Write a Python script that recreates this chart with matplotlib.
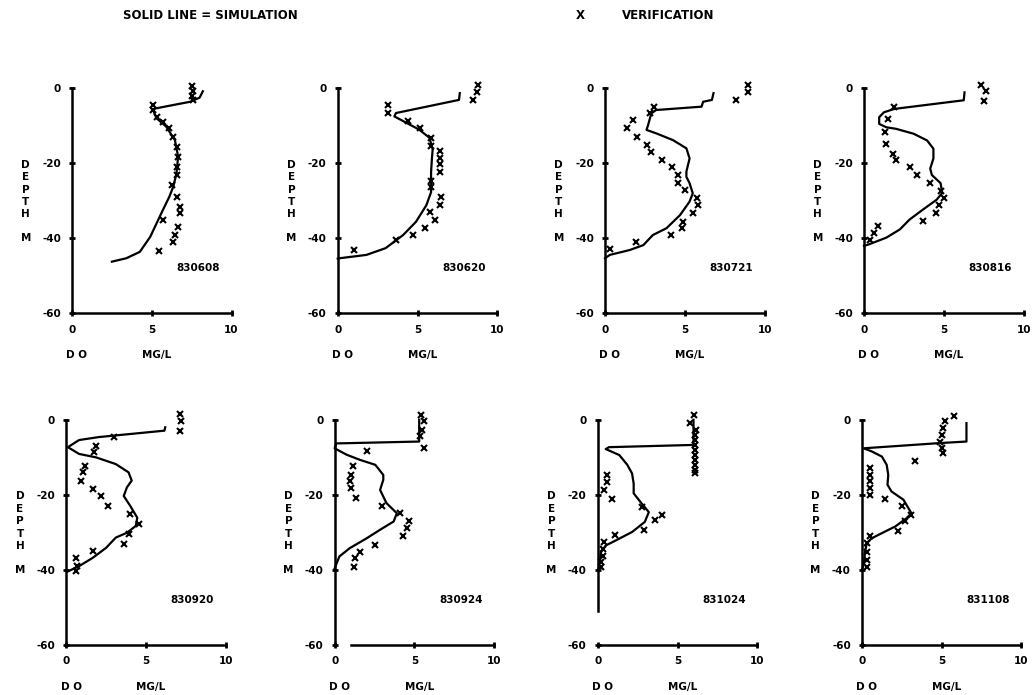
import matplotlib.pyplot as plt
from matplotlib.transforms import blended_transform_factory

plt.rcParams["font.family"] = "DejaVu Sans"
plt.rcParams["font.weight"] = "heavy"

# survey dates (YYMMDD)
dates = ["830608", "830620", "830721", "830816",
         "830920", "830924", "831024", "831108"]

# simulated D.O. profiles: (mg/L, depth m)
sim_do = [
    [8.2, 8.0, 7.4, 5.2, 5.1, 5.3, 5.9, 6.45, 6.65, 6.55, 6.35, 6.1, 5.7, 5.3, 4.9, 4.25, 3.4, 2.5],
    [7.65, 7.6, 3.65, 3.55, 4.3, 5.1, 5.75, 5.95, 5.9, 5.85, 5.85, 5.55, 4.9, 4.1, 3.0, 1.8, 0.1, 0.0],
    [6.8, 6.7, 6.15, 6.05, 3.2, 2.9, 2.7, 2.6, 3.2, 4.25, 5.1, 5.3, 5.1, 5.1, 5.3, 5.5, 5.3, 4.7,
     3.85, 3.0, 2.4, 1.55, 0.3, 0.0],
    [6.3, 6.25, 1.9, 1.25, 0.95, 0.95, 1.4, 2.0, 3.1, 3.95, 4.35, 4.35, 4.15, 4.25, 4.8, 4.9, 4.55,
     3.7, 2.85, 2.25, 1.4, 0.3, 0.0],
    [6.2, 6.15, 2.05, 0.8, 0.1, 0.8, 1.85, 3.1, 3.9, 4.1, 3.8, 3.6, 4.0, 4.45, 4.35, 3.8, 3.1, 2.5,
     1.65, 0.8, 0.1],
    [5.3, 5.3, 0.1, 0.0, 0.75, 1.6, 2.55, 3.05, 3.05, 2.85, 3.25, 3.9, 3.7, 2.85, 2.0, 0.95, 0.3, 0.0],
    [6.0, 6.0, 0.7, 0.5, 1.35, 1.85, 2.15, 2.25, 2.25, 2.75, 3.2, 2.95, 2.15, 1.15, 0.5, 0.2, 0.1, 0.0],
    [6.55, 6.55, 4.9, 0.1, 0.6, 1.25, 1.55, 1.65, 1.6, 1.85, 2.6, 3.1, 2.8, 2.1, 1.25, 0.6, 0.3, 0.2,
     0.1, 0.0],
]
sim_depth = [
    [-0.8, -2.5, -3.6, -5.4, -6.0, -8.0, -10.2, -13.8, -18.2, -22.7, -26.2, -28.9, -32.4, -36.0,
     -39.6, -43.6, -45.3, -46.2],
    [-1.3, -3.1, -6.6, -7.5, -9.2, -11.0, -13.2, -16.3, -18.9, -22.4, -27.7, -31.2, -35.6, -39.1,
     -42.6, -44.4, -45.3, -45.4],
    [-1.3, -3.1, -3.6, -4.9, -5.8, -6.7, -9.8, -11.1, -12.0, -13.8, -16.0, -18.7, -22.2, -23.6,
     -25.3, -28.0, -30.2, -33.8, -37.3, -39.1, -41.8, -43.1, -44.4, -45.3],
    [-1.1, -3.2, -5.5, -6.4, -7.7, -9.5, -10.4, -10.8, -12.1, -13.9, -16.1, -18.7, -21.4, -23.1,
     -25.3, -27.9, -29.7, -32.3, -35.0, -37.6, -39.8, -41.6, -42.0],
    [-2.0, -2.9, -4.6, -5.4, -7.3, -9.1, -10.0, -11.8, -14.0, -16.2, -18.0, -20.3, -22.9, -26.1,
     -28.3, -30.1, -31.4, -34.1, -36.8, -39.0, -40.4],
    [0.0, -5.8, -6.3, -7.6, -9.3, -10.7, -12.0, -14.7, -16.0, -18.7, -22.2, -24.9, -27.1, -29.3,
     -31.6, -34.2, -36.4, -39.6],
    [0.0, -6.7, -7.3, -7.8, -9.4, -12.0, -14.3, -17.0, -19.6, -22.3, -24.6, -27.2, -29.9, -32.1,
     -33.5, -35.3, -38.8, -40.2],
    [-0.9, -5.8, -6.2, -7.6, -8.4, -9.8, -12.0, -14.7, -17.3, -19.1, -21.3, -24.9, -26.2, -28.4,
     -30.2, -31.6, -32.9, -35.1, -38.7, -40.0],
]

# measured (verification) D.O.: (mg/L, depth m)
obs_do = [
    [7.5, 7.6, 7.5, 7.6, 5.1, 5.1, 5.3, 5.7, 6.1, 6.35, 6.55, 6.65, 6.6, 6.55, 6.25, 6.55, 6.75,
     6.75, 5.7, 6.65, 6.45, 6.3, 5.45],
    [8.8, 8.7, 8.5, 3.15, 3.15, 4.4, 5.15, 5.85, 5.85, 6.4, 6.4, 6.4, 6.4, 5.85, 5.85, 6.5, 6.4,
     5.8, 6.1, 5.45, 4.7, 3.65, 1.05],
    [8.95, 8.95, 8.2, 3.1, 2.8, 1.75, 1.35, 2.0, 2.6, 2.9, 3.55, 4.2, 4.6, 4.6, 5.0, 5.75, 5.85,
     5.5, 4.9, 4.8, 4.15, 1.95, 0.3],
    [7.35, 7.65, 7.55, 1.9, 1.5, 1.3, 1.4, 1.8, 2.0, 2.9, 3.3, 4.15, 4.8, 5.0, 4.7, 4.5, 3.7,
     0.85, 0.65, 0.4],
    [7.1, 7.2, 7.1, 3.0, 1.85, 1.75, 1.15, 1.05, 0.95, 1.65, 2.15, 2.6, 4.0, 4.55, 3.9, 3.6, 1.65,
     0.6, 0.7, 0.6],
    [5.4, 5.6, 5.45, 5.35, 5.6, 2.0, 1.15, 1.05, 0.95, 1.0, 1.35, 2.95, 4.1, 4.65, 4.55, 4.3, 2.55,
     1.6, 1.3, 1.2],
    [6.05, 5.75, 6.15, 6.1, 6.1, 6.1, 6.1, 6.1, 6.1, 6.1, 6.1, 6.1, 0.6, 0.6, 0.4, 0.9, 2.75, 4.0,
     3.6, 2.9, 1.05, 0.4, 0.3, 0.3, 0.2, 0.2],
    [5.75, 5.2, 5.1, 5.0, 4.9, 5.0, 5.05, 3.35, 0.5, 0.5, 0.5, 0.5, 0.5, 1.45, 2.5, 3.1, 2.7,
     2.25, 0.5, 0.3, 0.3, 0.3, 0.3],
]
obs_depth = [
    [0.5, -0.8, -2.0, -3.0, -4.4, -5.8, -7.6, -8.9, -10.7, -12.9, -15.6, -18.2, -20.9, -23.1,
     -25.8, -28.9, -31.6, -33.3, -35.1, -36.9, -39.1, -40.9, -43.3],
    [0.9, -0.9, -3.1, -4.4, -6.6, -8.8, -10.5, -13.2, -15.4, -16.7, -18.5, -20.2, -22.4, -24.6,
     -26.4, -29.0, -31.2, -33.0, -35.1, -37.3, -39.1, -40.4, -43.1],
    [0.9, -0.9, -3.1, -4.9, -6.7, -8.4, -10.7, -12.9, -15.1, -16.9, -19.1, -20.9, -23.1, -25.3,
     -27.1, -29.3, -31.1, -33.3, -35.6, -37.3, -39.1, -40.9, -42.7],
    [1.0, -0.7, -3.3, -4.9, -8.2, -11.7, -14.8, -17.4, -19.2, -20.9, -23.1, -25.3, -27.5, -29.3,
     -31.0, -33.2, -35.4, -36.7, -38.5, -40.3],
    [1.6, -0.2, -2.9, -4.6, -6.9, -8.7, -12.2, -14.0, -16.3, -18.5, -20.3, -22.9, -25.2, -27.9,
     -30.5, -33.2, -35.0, -36.8, -39.0, -40.4],
    [1.3, -0.4, -2.7, -4.4, -7.6, -8.4, -12.4, -14.7, -16.4, -18.2, -20.9, -23.1, -24.9, -27.1,
     -28.9, -31.1, -33.3, -35.1, -36.9, -39.1],
    [1.3, -0.9, -2.7, -4.0, -5.4, -6.7, -8.0, -9.4, -10.7, -12.0, -13.4, -14.3, -14.7, -16.5,
     -18.7, -21.0, -23.2, -25.4, -26.8, -29.5, -30.8, -32.6, -34.4, -36.2, -37.9, -39.3],
    [0.9, -0.4, -2.2, -4.0, -5.8, -7.6, -8.9, -11.1, -12.9, -14.7, -16.4, -18.2, -20.0, -21.1,
     -23.1, -25.3, -27.1, -29.6, -31.1, -32.9, -35.1, -37.3, -39.1],
]

# panel positions in figure fraction: left, bottom
lefts = [0.0695, 0.326, 0.584, 0.834, 0.064, 0.323, 0.577, 0.832]
bottoms = [0.549] * 4 + [0.072] * 4
w, h = 0.154, 0.324
fs = 7.5

fig = plt.figure(figsize=(10.36, 6.95), dpi=100)

fig.text(0.119, 0.978, "SOLID LINE = SIMULATION", fontsize=8.5, va="center")
fig.text(0.556, 0.978, "X", fontsize=8.5, va="center")
fig.text(0.600, 0.978, "VERIFICATION", fontsize=8.5, va="center")

for i in range(8):
    ax = fig.add_axes([lefts[i], bottoms[i], w, h])
    ax.plot(sim_do[i], sim_depth[i], color="black", lw=1.6, clip_on=False)
    ax.plot(obs_do[i], obs_depth[i], ls="none", marker="x", ms=4.5, mew=1.5,
            color="black", clip_on=False)

    ax.set_xlim(0, 10)
    ax.set_ylim(-60, 0)
    ax.set_xticks([0, 5, 10])
    ax.set_yticks([0, -20, -40, -60])
    ax.set_xticklabels(["0", "5", "10"])
    ax.set_yticklabels(["0", "-20", "-40", "-60"])
    ax.tick_params(direction="inout", length=4, width=2, labelsize=fs, pad=6)

    for s in ["top", "right"]:
        ax.spines[s].set_visible(False)
    for s in ["left", "bottom"]:
        ax.spines[s].set_linewidth(1.8)
    if i == 5:
        ax.spines["bottom"].set_bounds(1, 10)
    if i == 6:
        ax.spines["left"].set_bounds(-51, 0)

    # stacked axis title DEPTH ... M
    tr = blended_transform_factory(ax.transAxes, ax.transData)
    ax.text(-0.29, -27, "D\nE\nP\nT\nH", transform=tr, fontsize=fs,
            ha="center", va="center", linespacing=1.3)
    ax.text(-0.29, -40, "M", transform=tr, fontsize=fs, ha="center", va="center")

    ax.annotate("D O", xy=(0.03, 0), xycoords="axes fraction", xytext=(0, -30),
                textcoords="offset points", fontsize=fs, ha="center", va="center")
    ax.annotate("MG/L", xy=(0.53, 0), xycoords="axes fraction", xytext=(0, -30),
                textcoords="offset points", fontsize=fs, ha="center", va="center")

    ax.text(7.9, -48, dates[i], fontsize=fs, ha="center", va="center")

fig.savefig("out.png", dpi=100)
